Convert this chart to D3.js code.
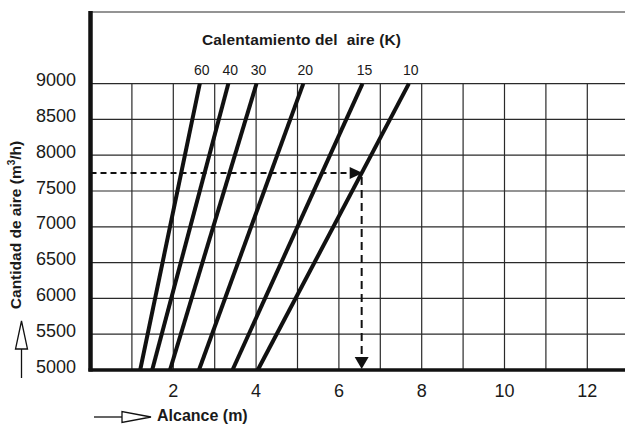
<!DOCTYPE html>
<html>
<head>
<meta charset="utf-8">
<script src="https://cdn.jsdelivr.net/npm/d3@7"></script>
<style>
  html, body { margin: 0; padding: 0; background: #fff; }
  svg { display: block; }
  text { font-family: "Liberation Sans", Arial, sans-serif; fill: #1a1a1a; }
</style>
</head>
<body>
<svg id="chart" width="625" height="425"></svg>
<script>
// Air-heating curves: range (m) vs. air flow (m3/h) for each temperature rise
const heatingK   = [60, 40, 30, 20, 15, 10];
const rangeAt5000 = [1.2, 1.49, 1.92, 2.62, 3.43, 4.04];
const rangeAt9000 = [2.64, 3.33, 4.01, 5.14, 6.57, 7.69];
const flowEnds   = [5000, 9000];

const xTicks = [2, 4, 6, 8, 10, 12];
const xGrid  = [1, 2, 3, 4, 5, 6, 7, 8, 9, 10, 11, 12, 13];
const yTicks = [5000, 5500, 6000, 6500, 7000, 7500, 8000, 8500, 9000];

// Worked example: read-off point on the 10 K curve
const exampleFlow = 7750;
const exampleRange = 6.55;

const svg = d3.select("#chart");

const x = d3.scaleLinear().domain([0, 13]).range([90.5, 628.7]);
const y = d3.scaleLinear().domain([5000, 10000]).range([370, 12]);

const xMax = 625;

// Grid
const grid = svg.append("g").attr("stroke", "#2a2a2a").attr("stroke-width", 1.2);
grid.selectAll("line.h").data(yTicks.slice(1)).join("line")
  .attr("x1", x(0)).attr("x2", xMax)
  .attr("y1", d => y(d)).attr("y2", d => y(d));
grid.selectAll("line.v").data(xGrid).join("line")
  .attr("x1", d => x(d)).attr("x2", d => x(d))
  .attr("y1", y(9000)).attr("y2", y(5000));

// Top frame line
svg.append("line")
  .attr("x1", x(0)).attr("x2", xMax)
  .attr("y1", y(10000)).attr("y2", y(10000))
  .attr("stroke", "#2a2a2a").attr("stroke-width", 1.2);

// Curves
const line = d3.line().x(d => x(d[0])).y(d => y(d[1]));
svg.append("g").selectAll("path").data(heatingK).join("path")
  .attr("d", (k, i) => line([[rangeAt5000[i], flowEnds[0]], [rangeAt9000[i], flowEnds[1]]]))
  .attr("fill", "none").attr("stroke", "#111").attr("stroke-width", 4);

// Curve labels
svg.append("g").selectAll("text").data(heatingK).join("text")
  .attr("x", (k, i) => x(rangeAt9000[i]) + 2)
  .attr("y", 75)
  .attr("text-anchor", "middle")
  .attr("font-size", 14)
  .attr("fill", "#222")
  .text(d => d);

// Example read-off: dashed guides with arrowheads
const ex = x(exampleRange), ey = y(exampleFlow);
svg.append("line")
  .attr("x1", x(0)).attr("x2", ex - 8)
  .attr("y1", ey).attr("y2", ey)
  .attr("stroke", "#111").attr("stroke-width", 2)
  .attr("stroke-dasharray", "6,4");
svg.append("path")
  .attr("d", `M${ex + 1},${ey} L${ex - 12},${ey - 6} L${ex - 12},${ey + 6} Z`)
  .attr("fill", "#111");
svg.append("line")
  .attr("x1", ex).attr("x2", ex)
  .attr("y1", ey + 4).attr("y2", y(5000) - 12)
  .attr("stroke", "#111").attr("stroke-width", 2)
  .attr("stroke-dasharray", "8,5");
svg.append("path")
  .attr("d", `M${ex},${y(5000) - 1} L${ex - 7},${y(5000) - 13} L${ex + 7},${y(5000) - 13} Z`)
  .attr("fill", "#111");

// Axes lines
svg.append("line")
  .attr("x1", x(0) - 2).attr("x2", xMax)
  .attr("y1", y(5000)).attr("y2", y(5000))
  .attr("stroke", "#111").attr("stroke-width", 3.5);
svg.append("line")
  .attr("x1", x(0)).attr("x2", x(0))
  .attr("y1", y(10000) - 1).attr("y2", y(5000) + 1.5)
  .attr("stroke", "#111").attr("stroke-width", 4.5);

// Tick labels
svg.append("g").selectAll("text").data(yTicks).join("text")
  .attr("x", 76).attr("y", d => y(d) + 2.5)
  .attr("text-anchor", "end")
  .attr("font-size", 18)
  .attr("fill", "#2a2a2a")
  .text(d => d);
svg.append("g").selectAll("text").data(xTicks).join("text")
  .attr("x", d => x(d)).attr("y", 397)
  .attr("text-anchor", "middle")
  .attr("font-size", 18)
  .attr("fill", "#2a2a2a")
  .text(d => d);

// Title
svg.append("text")
  .attr("x", 301.5).attr("y", 45)
  .attr("text-anchor", "middle")
  .attr("font-size", 15.5).attr("font-weight", "bold")
  .attr("xml:space", "preserve")
  .attr("textLength", 199).attr("lengthAdjust", "spacing")
  .text("Calentamiento del  aire (K)");

// Y axis title with arrow
const yt = svg.append("text")
  .attr("transform", "translate(20.5,225) rotate(-90)")
  .attr("text-anchor", "middle")
  .attr("font-size", 15.5).attr("font-weight", "bold");
yt.append("tspan").text("Cantidad de aire (m");
yt.append("tspan").attr("font-size", 10).attr("dy", -5.5).text("3");
yt.append("tspan").attr("dy", 5.5).text("/h)");

svg.append("line").attr("x1", 21.5).attr("x2", 21.5).attr("y1", 349).attr("y2", 378)
  .attr("stroke", "#111").attr("stroke-width", 1.3);
svg.append("path").attr("d", "M21.5,321 L15.5,349 L27.5,349 Z")
  .attr("fill", "#fff").attr("stroke", "#111").attr("stroke-width", 1.3);

// X axis title with arrow
svg.append("line").attr("x1", 94).attr("x2", 122).attr("y1", 417).attr("y2", 417)
  .attr("stroke", "#111").attr("stroke-width", 1.3);
svg.append("path").attr("d", "M151,417 L122,411.5 L122,422.5 Z")
  .attr("fill", "#fff").attr("stroke", "#111").attr("stroke-width", 1.3);
svg.append("text")
  .attr("x", 157).attr("y", 421)
  .attr("font-size", 16).attr("font-weight", "bold")
  .text("Alcance (m)");
</script>
</body>
</html>
